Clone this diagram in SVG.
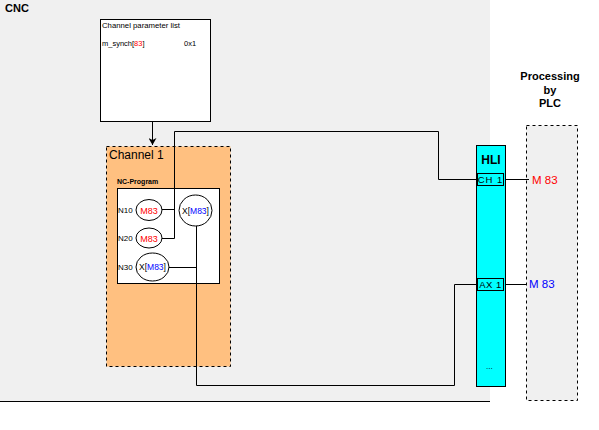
<svg xmlns="http://www.w3.org/2000/svg" width="599" height="430" viewBox="0 0 599 430">
<style>
.t{font-family:"Liberation Sans",Arial,sans-serif;fill:#000}
.ln{fill:none;stroke:#000;stroke-width:1}
.ell{fill:#fff;stroke:#000;stroke-width:1}
.red{fill:#ff0000}
.blue{fill:#0000ff}
</style>
<defs>
<marker id="arr" markerWidth="8" markerHeight="8" refX="7" refY="4" orient="auto" markerUnits="userSpaceOnUse">
<path d="M0,0 L7,4 L0,8 L2,4 z" fill="#000"/>
</marker>
</defs>
<rect width="599" height="430" fill="#fff"/>
<g id="cnc">
<rect x="0" y="0" width="490" height="401" fill="#f0f0f0"/>
<line x1="0" y1="401.5" x2="490" y2="401.5" stroke="#000"/>
<text class="t" x="5" y="12" font-size="11" font-weight="bold">CNC</text>
</g>
<g id="plc">
<rect x="526.5" y="125.5" width="51" height="275" fill="#f0f0f0" stroke="#000" stroke-dasharray="3,3"/>
<text class="t" x="550" y="80" font-size="11" font-weight="bold" text-anchor="middle">Processing</text>
<text class="t" x="550" y="94" font-size="11" font-weight="bold" text-anchor="middle">by</text>
<text class="t" x="550" y="107" font-size="11" font-weight="bold" text-anchor="middle">PLC</text>
</g>
<g id="param-list">
<rect x="100.5" y="19.5" width="110" height="102" fill="#fff" stroke="#000"/>
<text class="t" x="102" y="28" font-size="7.5" textLength="78" lengthAdjust="spacingAndGlyphs">Channel parameter list</text>
<text class="t" x="102" y="46" font-size="7.5">m_synch[<tspan class="red">83</tspan>]</text>
<text class="t" x="184" y="46" font-size="7.5">0x1</text>
</g>
<g id="channel1">
<rect x="106.5" y="146.5" width="124" height="220" fill="#ffc080" stroke="#000" stroke-dasharray="3,3"/>
<text class="t" x="109" y="159" font-size="12">Channel 1</text>
<text class="t" x="117" y="184" font-size="7" font-weight="bold">NC-Program</text>
</g>
<g id="nc-program">
<rect x="117.5" y="188.5" width="102" height="95" fill="#fff" stroke="#000"/>
<text class="t" x="118" y="213" font-size="8">N10</text>
<text class="t" x="118" y="241" font-size="8">N20</text>
<text class="t" x="118" y="270" font-size="8">N30</text>
</g>
<g id="n10-m83">
<ellipse class="ell" cx="149" cy="210" rx="13" ry="10.5"/>
<text class="t red" x="149" y="213.5" font-size="9" text-anchor="middle">M83</text>
</g>
<g id="n20-m83">
<ellipse class="ell" cx="149" cy="238" rx="13" ry="10"/>
<text class="t red" x="149" y="241.5" font-size="9" text-anchor="middle">M83</text>
</g>
<g id="n30-x">
<ellipse class="ell" cx="152.5" cy="267" rx="16.5" ry="14"/>
<text class="t" x="152.5" y="270" font-size="8.5" text-anchor="middle">X[<tspan class="blue">M83</tspan>]</text>
</g>
<g id="n10-x">
<ellipse class="ell" cx="195.5" cy="210.5" rx="16.5" ry="15.5"/>
<text class="t" x="195.5" y="213.5" font-size="8.5" text-anchor="middle">X[<tspan class="blue">M83</tspan>]</text>
</g>
<g id="hli">
<rect x="476.5" y="145.5" width="29" height="241" fill="#00ffff" stroke="#000"/>
<text class="t" x="491" y="164" font-size="12" font-weight="bold" text-anchor="middle">HLI</text>
<rect x="477.5" y="173.5" width="26" height="12" fill="#00ffff" stroke="#000"/>
<text class="t" x="490.5" y="183" font-size="9.5" text-anchor="middle" letter-spacing="1">CH 1</text>
<rect x="477.5" y="278.5" width="26" height="12" fill="#00ffff" stroke="#000"/>
<text class="t" x="490.5" y="288" font-size="9.5" text-anchor="middle" letter-spacing="0.5">AX 1</text>
<text class="t" x="486" y="369" font-size="8">...</text>
</g>
<g id="labels">
<text class="t red" x="532" y="184" font-size="11.5">M 83</text>
<text class="t blue" x="529" y="288" font-size="11.5">M 83</text>
</g>
<g id="connectors">
<line class="ln" x1="152.5" y1="122" x2="152.5" y2="145" marker-end="url(#arr)"/>
<polyline class="ln" points="162,238.5 174.5,238.5 174.5,131.5 438.5,131.5 438.5,179.5 476,179.5"/>
<line class="ln" x1="162" y1="209.5" x2="174.5" y2="209.5"/>
<polyline class="ln" points="196.5,226 196.5,385.5 454.5,385.5 454.5,284.5 477,284.5"/>
<line class="ln" x1="169" y1="267.5" x2="196.5" y2="267.5"/>
<line class="ln" x1="505" y1="179.5" x2="529" y2="179.5"/>
<line class="ln" x1="505" y1="284.5" x2="526" y2="284.5"/>
</g>
</svg>
